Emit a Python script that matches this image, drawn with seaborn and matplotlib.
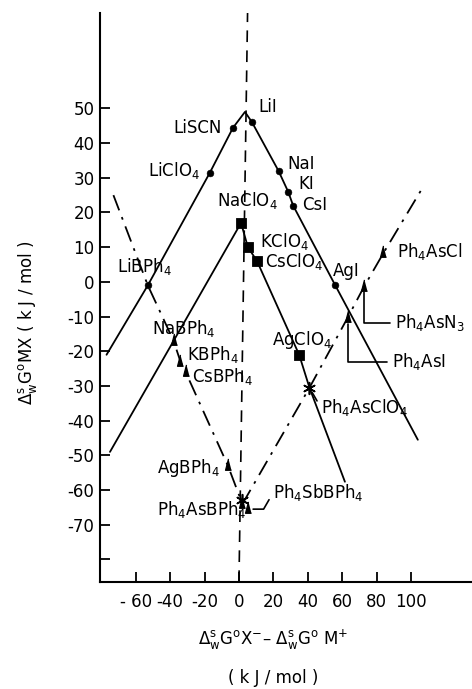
import matplotlib
matplotlib.use("Agg")
import matplotlib.pyplot as plt
import seaborn as sns
import numpy as np

# ---------------- data ----------------
# solid line through the Li / iodide salts
li_line_x = [-77, -53, -17, -3.5, 3.5, 7.6, 23, 28.6, 31.5, 56, 104]
li_line_y = [-21, -1, 31.4, 44.4, 49, 46, 32, 26, 22, -1, -45.5]
# solid line through the Na / perchlorate salts
na_line_x = [-75, -38, 1.2, 5.2, 10.5, 35, 41, 61.6]
na_line_y = [-49, -17, 17, 10, 6, -21, -30.5, -57.6]
# dash-dot line through the tetraphenylborates
bph_line_x = [-73, -53, -38, -34, -31, -6.4, 2]
bph_line_y = [25, -1, -17, -23, -26, -53, -64]
# dash-dot line through the tetraphenylarsonium salts
as_line_x = [2, 41, 63, 72.7, 84, 106]
as_line_y = [-64, -30.5, -10.5, -1.4, 8.3, 26.5]
# dashed near-vertical line
vert_x = [0, 5]
vert_y = [-86.5, 77.5]

circle_names = ["LiSCN", "LiClO4", "LiBPh4", "LiI", "NaI", "KI", "CsI", "AgI"]
circle_x = [-3.5, -17, -53, 7.6, 23, 28.6, 31.5, 56]
circle_y = [44.4, 31.4, -1, 46, 32, 26, 22, -1]

square_names = ["NaClO4", "KClO4", "CsClO4", "AgClO4"]
square_x = [1.2, 5.2, 10.5, 35]
square_y = [17, 10, 6, -21]

tri_names = ["NaBPh4", "KBPh4", "CsBPh4", "AgBPh4", "Ph4AsBPh4", "Ph4SbBPh4",
             "Ph4AsI", "Ph4AsN3", "Ph4AsCl"]
tri_x = [-38, -34, -31, -6.4, 2, 5, 63.4, 72.7, 84]
tri_y = [-17, -23, -26, -53, -64, -65.5, -10.5, -1.4, 8.3]

star_x = [41, 2]
star_y = [-30.5, -63]

x_ticks = [-60, -40, -20, 0, 20, 40, 60, 80, 100]
x_tick_labels = ["- 60", "-40", "-20", "0", "20", "40", "60", "80", "100"]
y_ticks = [50, 40, 30, 20, 10, 0, -10, -20, -30, -40, -50, -60, -70, -80]
y_tick_labels = ["50", "40", "30", "20", "10", "0", "-10", "-20", "-30",
                 "-40", "-50", "-60", "-70", ""]

# ---------------- plotting ----------------
sns.set_theme(style="white")
plt.rcParams["font.family"] = ["DejaVu Sans"]
plt.rcParams["mathtext.default"] = "regular"
plt.rcParams["text.color"] = "black"

fig = plt.figure(figsize=(4.72, 6.89), dpi=100)
ax = fig.add_axes([100 / 472, 107 / 689, 372 / 472, 569 / 689])
ax.set_xlim(-80.8, 135.5)
ax.set_ylim(-86.5, 77.5)

K = "black"
LW = 1.3

sns.lineplot(x=li_line_x, y=li_line_y, sort=False, estimator=None, color=K, lw=LW, ax=ax)
sns.lineplot(x=na_line_x, y=na_line_y, sort=False, estimator=None, color=K, lw=LW, ax=ax)
sns.lineplot(x=bph_line_x, y=bph_line_y, sort=False, estimator=None, color=K, lw=LW, ax=ax)
ax.lines[-1].set_dashes([9, 4, 1.5, 4])
sns.lineplot(x=as_line_x, y=as_line_y, sort=False, estimator=None, color=K, lw=LW, ax=ax)
ax.lines[-1].set_dashes([9, 4, 1.5, 4])
sns.lineplot(x=vert_x, y=vert_y, sort=False, estimator=None, color=K, lw=1.2, ax=ax)
ax.lines[-1].set_dashes([7, 5])

sns.scatterplot(x=circle_x, y=circle_y, marker="o", s=24, color=K, edgecolor=K, ax=ax, zorder=5)
sns.scatterplot(x=square_x, y=square_y, marker="s", s=55, color=K, edgecolor=K, ax=ax, zorder=5)
tri_marker = [(0, 1.4), (-0.55, -0.7), (0.55, -0.7)]
sns.scatterplot(x=tri_x, y=tri_y, marker=tri_marker, s=120, color=K, edgecolor=K, ax=ax, zorder=5)
sns.scatterplot(x=star_x, y=star_y, marker=(6, 2, 0), s=70, color=K, linewidth=1.2, ax=ax, zorder=5)

FS = 12
def lab(s, x, y, ha="left"):
    ax.text(x, y, s, fontsize=FS, ha=ha, va="center", color=K)

lab("LiSCN", -9.9, 44.4, ha="right")
lab(r"LiClO$_4$", -22.7, 32.0, ha="right")
lab(r"NaClO$_4$", -12.8, 23.5)
lab("LiI", 11, 50.4)
lab("NaI", 27.9, 34)
lab("KI", 34.3, 28.2)
lab("CsI", 36.6, 22.3)
lab(r"KClO$_4$", 12.2, 11.5)
lab(r"CsClO$_4$", 15.1, 5.8)
lab("AgI", 54.7, 3.2)
lab(r"Ph$_4$AsCl", 91.9, 8.7)
lab(r"AgClO$_4$", 19.2, -16.7)
lab(r"LiBPh$_4$", -71, 4.3)
lab(r"NaBPh$_4$", -50.6, -13.3)
lab(r"KBPh$_4$", -30.2, -21)
lab(r"CsBPh$_4$", -27.3, -27.4)
lab(r"AgBPh$_4$", -47.7, -53.6)
lab(r"Ph$_4$AsBPh$_4$", -47.7, -65.5)

arrow = dict(arrowstyle="-", color=K, lw=1.2, shrinkA=1, shrinkB=4, relpos=(0, 0.5))
ax.annotate(r"Ph$_4$AsN$_3$", xy=(72.7, -1.4), xytext=(90.7, -11.8), fontsize=FS,
            ha="left", va="center", color=K,
            arrowprops=dict(arrow, connectionstyle="angle,angleA=180,angleB=90,rad=0"))
ax.annotate(r"Ph$_4$AsI", xy=(63.4, -10.5), xytext=(89, -23), fontsize=FS,
            ha="left", va="center", color=K,
            arrowprops=dict(arrow, connectionstyle="angle,angleA=180,angleB=90,rad=0"))
ax.annotate(r"Ph$_4$AsClO$_4$", xy=(41, -30.5), xytext=(47.7, -36.3), fontsize=FS,
            ha="left", va="center", color=K, arrowprops=dict(arrow, connectionstyle="arc3"))
ax.annotate(r"Ph$_4$SbBPh$_4$", xy=(5, -65.5), xytext=(19.8, -60.8), fontsize=FS,
            ha="left", va="center", color=K,
            arrowprops=dict(arrow, connectionstyle="angle,angleA=-120,angleB=0,rad=0"))

# axes styling
for s in ["top", "right"]:
    ax.spines[s].set_visible(False)
for s in ["left", "bottom"]:
    ax.spines[s].set_linewidth(1.5)
    ax.spines[s].set_color(K)
ax.set_xticks(x_ticks)
ax.set_xticklabels(x_tick_labels)
ax.set_yticks(y_ticks)
ax.set_yticklabels(y_tick_labels)
ax.tick_params(direction="in", length=7, width=1.3, colors=K, labelsize=FS,
               left=True, bottom=True, pad=4)
ax.tick_params(axis="x", pad=8)
ax.set_xlabel("")
ax.set_ylabel("")

fig.text(28 / 472, 1 - 323 / 689, r"$\Delta_w^sG^o$MX ( k J / mol )", rotation=90,
         ha="center", va="center", fontsize=FS, color=K)
fig.text(273 / 472, 1 - 640 / 689, r"$\Delta_w^sG^o X^{-}$– $\Delta_w^sG^o$ M$^{+}$",
         ha="center", va="center", fontsize=FS, color=K)
fig.text(273 / 472, 1 - 678 / 689, "( k J / mol )", ha="center", va="center",
         fontsize=FS, color=K)

fig.savefig("out.png", dpi=100, facecolor="white")
